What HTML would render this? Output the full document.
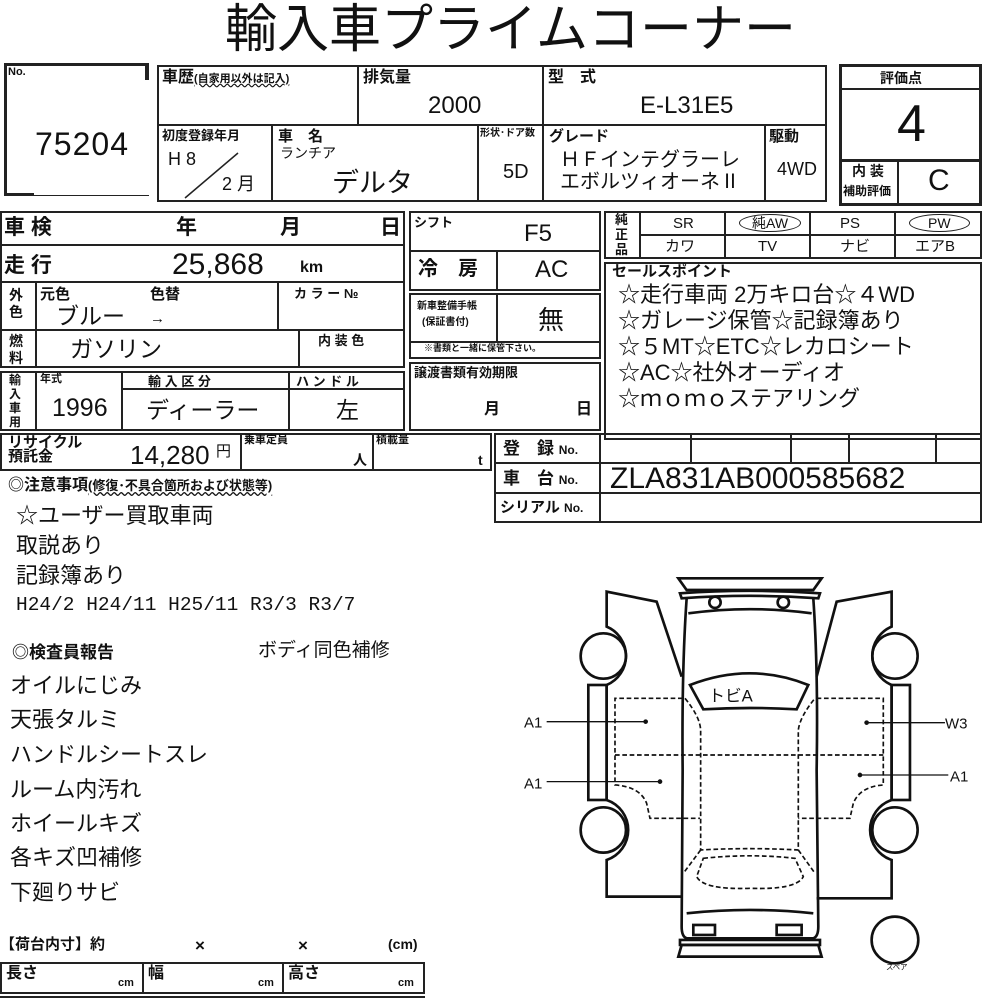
<!DOCTYPE html>
<html><head><meta charset="utf-8">
<style>
body{margin:0;background:#fff;}
#p{position:relative;width:1000px;height:1000px;overflow:hidden;font-family:"Liberation Sans","Noto Sans CJK JP",sans-serif;color:#111;}
.b{position:absolute;border:2px solid #222;box-sizing:border-box;}
.l{position:absolute;background:#222;}
.t{position:absolute;white-space:nowrap;line-height:1;}
.s{font-size:13px;font-weight:bold;}
.m{font-size:22px;}
.n{font-size:22px;}
</style></head><body><div id="p">
<div class="t" style="left:225px;top:4px;font-size:52px;letter-spacing:0px">輸入車プライムコーナー</div>

<!-- No box -->
<div class="l" style="left:4px;top:63px;width:145px;height:3px"></div>
<div class="l" style="left:145px;top:63px;width:4px;height:17px"></div>
<div class="l" style="left:4px;top:63px;width:3px;height:133px"></div>
<div class="l" style="left:4px;top:193px;width:30px;height:3px"></div>
<div class="l" style="left:34px;top:195px;width:115px;height:1px"></div>
<div class="t s" style="left:8px;top:67px;font-size:11px">No.</div>
<div class="t" style="left:35px;top:128px;font-size:32px;letter-spacing:1px">75204</div>

<!-- top table -->
<div class="b" style="left:157px;top:65px;width:670px;height:137px"></div>
<div class="l" style="left:157px;top:124px;width:670px;height:2px"></div>
<div class="l" style="left:357px;top:65px;width:2px;height:60px"></div>
<div class="l" style="left:542px;top:65px;width:2px;height:137px"></div>
<div class="l" style="left:271px;top:124px;width:2px;height:78px"></div>
<div class="l" style="left:477px;top:124px;width:2px;height:78px"></div>
<div class="l" style="left:764px;top:124px;width:2px;height:78px"></div>
<div class="t" style="left:162px;top:70px;font-size:16px;font-weight:bold">車歴<span style="font-size:11px;text-decoration:underline wavy">(自家用以外は記入)</span></div>
<div class="t" style="left:363px;top:70px;font-size:16px;font-weight:bold">排気量</div>
<div class="t" style="left:428px;top:94px;font-size:24px">2000</div>
<div class="t" style="left:640px;top:94px;font-size:24px">E-L31E5</div>
<div class="t" style="left:548px;top:70px;font-size:16px;font-weight:bold">型　式</div>
<div class="t s" style="left:162px;top:129px">初度登録年月</div>
<div class="t" style="left:168px;top:150px;font-size:18px">H 8</div>
<div class="t" style="left:222px;top:175px;font-size:18px">2 月</div>
<svg style="position:absolute;left:180px;top:150px" width="60" height="50"><line x1="5" y1="48" x2="58" y2="3" stroke="#222" stroke-width="1.5"/></svg>
<div class="t" style="left:278px;top:129px;font-size:15px;font-weight:bold">車　名</div>
<div class="t" style="left:280px;top:146px;font-size:14px">ランチア</div>
<div class="t" style="left:332px;top:170px;font-size:27px">デルタ</div>
<div class="t" style="left:480px;top:129px;font-size:10px;font-weight:bold">形状･ドア数</div>
<div class="t" style="left:503px;top:162px;font-size:20px">5D</div>
<div class="t" style="left:549px;top:129px;font-size:15px;font-weight:bold">グレード</div>
<div class="t" style="left:560px;top:150px;font-size:20px">ＨＦインテグラーレ</div>
<div class="t" style="left:560px;top:172px;font-size:20px">エボルツィオーネⅡ</div>
<div class="t" style="left:769px;top:129px;font-size:15px;font-weight:bold">駆動</div>
<div class="t" style="left:777px;top:160px;font-size:18px">4WD</div>

<!-- 評価点 -->
<div class="b" style="left:839px;top:64px;width:143px;height:142px;border-width:3px"></div>
<div class="l" style="left:839px;top:88px;width:143px;height:2px"></div>
<div class="l" style="left:839px;top:159px;width:143px;height:3px"></div>
<div class="l" style="left:897px;top:159px;width:2px;height:46px"></div>
<div class="t s" style="left:880px;top:71px;font-size:14px">評価点</div>
<div class="t" style="left:897px;top:98px;font-size:52px">4</div>
<div class="t s" style="left:852px;top:164px;font-size:14px">内 装</div>
<div class="t s" style="left:843px;top:185px;font-size:12px">補助評価</div>
<div class="t" style="left:928px;top:166px;font-size:30px">C</div>

<!-- left block -->
<div class="b" style="left:0;top:211px;width:405px;height:72px"></div>
<div class="l" style="left:0;top:244px;width:405px;height:2px"></div>
<div class="t" style="left:4px;top:217px;font-size:21px;font-weight:bold">車 検</div>
<div class="t" style="left:176px;top:217px;font-size:21px;font-weight:bold">年</div>
<div class="t" style="left:280px;top:217px;font-size:21px;font-weight:bold">月</div>
<div class="t" style="left:380px;top:217px;font-size:21px;font-weight:bold">日</div>
<div class="t" style="left:4px;top:255px;font-size:21px;font-weight:bold">走 行</div>
<div class="t" style="left:172px;top:250px;font-size:30px">25,868</div>
<div class="t" style="left:300px;top:260px;font-size:16px;font-weight:bold">km</div>

<div class="b" style="left:0;top:281px;width:405px;height:87px"></div>
<div class="l" style="left:0;top:329px;width:405px;height:2px"></div>
<div class="l" style="left:35px;top:281px;width:2px;height:87px"></div>
<div class="l" style="left:277px;top:281px;width:2px;height:49px"></div>
<div class="l" style="left:298px;top:329px;width:2px;height:39px"></div>
<div class="t s" style="left:9px;top:287px;font-size:14px;line-height:17px;white-space:normal;width:16px">外色</div>
<div class="t s" style="left:40px;top:287px;font-size:15px">元色</div>
<div class="t s" style="left:150px;top:287px;font-size:15px">色替</div>
<div class="t" style="left:56px;top:305px;font-size:23px">ブルー</div>
<div class="t" style="left:150px;top:311px;font-size:15px">→</div>
<div class="t s" style="left:294px;top:287px">カ ラ ー №</div>
<div class="t s" style="left:9px;top:333px;font-size:14px;line-height:17px;white-space:normal;width:16px">燃料</div>
<div class="t" style="left:70px;top:338px;font-size:23px">ガソリン</div>
<div class="t s" style="left:318px;top:334px">内 装 色</div>

<div class="b" style="left:0;top:371px;width:405px;height:60px"></div>
<div class="l" style="left:35px;top:371px;width:2px;height:60px"></div>
<div class="l" style="left:121px;top:371px;width:2px;height:60px"></div>
<div class="l" style="left:288px;top:371px;width:2px;height:60px"></div>
<div class="l" style="left:121px;top:388px;width:284px;height:2px"></div>
<div class="t s" style="left:9px;top:373px;font-size:12px;line-height:14px;white-space:normal;width:14px">輸入車用</div>
<div class="t s" style="left:40px;top:374px;font-size:11px">年式</div>
<div class="t s" style="left:148px;top:375px">輸 入 区 分</div>
<div class="t s" style="left:296px;top:375px">ハ ン ド ル</div>
<div class="t" style="left:52px;top:396px;font-size:25px">1996</div>
<div class="t" style="left:146px;top:399px;font-size:23px">ディーラー</div>
<div class="t" style="left:336px;top:399px;font-size:23px">左</div>

<!-- middle column -->
<div class="b" style="left:409px;top:211px;width:192px;height:80px"></div>
<div class="l" style="left:409px;top:250px;width:192px;height:2px"></div>
<div class="l" style="left:496px;top:250px;width:2px;height:41px"></div>
<div class="t s" style="left:414px;top:216px">シフト</div>
<div class="t" style="left:524px;top:222px;font-size:24px">F5</div>
<div class="t" style="left:418px;top:259px;font-size:20px;font-weight:bold">冷　房</div>
<div class="t" style="left:535px;top:258px;font-size:24px">AC</div>
<div class="b" style="left:409px;top:293px;width:192px;height:66px"></div>
<div class="l" style="left:496px;top:293px;width:2px;height:49px"></div>
<div class="l" style="left:409px;top:341px;width:192px;height:2px"></div>
<div class="t s" style="left:417px;top:302px;font-size:10px">新車整備手帳</div>
<div class="t s" style="left:422px;top:318px;font-size:10px">(保証書付)</div>
<div class="t" style="left:538px;top:307px;font-size:26px">無</div>
<div class="t s" style="left:424px;top:344px;font-size:9px">※書類と一緒に保管下さい。</div>
<div class="b" style="left:409px;top:362px;width:192px;height:69px"></div>
<div class="t s" style="left:414px;top:366px">譲渡書類有効期限</div>
<div class="t s" style="left:484px;top:402px;font-size:16px">月</div>
<div class="t s" style="left:576px;top:402px;font-size:16px">日</div>

<!-- 純正品 -->
<div class="b" style="left:604px;top:211px;width:378px;height:48px"></div>
<div class="l" style="left:639px;top:211px;width:2px;height:48px"></div>
<div class="l" style="left:639px;top:234px;width:343px;height:2px"></div>
<div class="l" style="left:724px;top:211px;width:2px;height:48px"></div>
<div class="l" style="left:809px;top:211px;width:2px;height:48px"></div>
<div class="l" style="left:894px;top:211px;width:2px;height:48px"></div>
<div class="t s" style="left:615px;top:212px;font-size:13px;line-height:15px;white-space:normal;width:14px">純正品</div>
<div class="t" style="left:673px;top:216px;font-size:15px">SR</div>
<div class="t" style="left:739px;top:214px;font-size:14px;border:1.5px solid #222;border-radius:50%;padding:1px 12px">純AW</div>
<div class="t" style="left:840px;top:216px;font-size:15px">PS</div>
<div class="t" style="left:909px;top:214px;font-size:14px;border:1.5px solid #222;border-radius:50%;padding:1px 18px">PW</div>
<div class="t" style="left:665px;top:239px;font-size:15px">カワ</div>
<div class="t" style="left:758px;top:239px;font-size:15px">TV</div>
<div class="t" style="left:840px;top:239px;font-size:15px">ナビ</div>
<div class="t" style="left:915px;top:239px;font-size:15px">エアB</div>

<div class="b" style="left:604px;top:262px;width:378px;height:178px"></div>
<div class="t s" style="left:612px;top:264px;font-size:15px">セールスポイント</div>
<div class="t m" style="left:618px;top:284px">☆走行車両 2万キロ台☆４WD</div>
<div class="t m" style="left:618px;top:310px">☆ガレージ保管☆記録簿あり</div>
<div class="t m" style="left:618px;top:336px">☆５MT☆ETC☆レカロシート</div>
<div class="t m" style="left:618px;top:362px">☆AC☆社外オーディオ</div>
<div class="t m" style="left:618px;top:388px">☆ｍｏｍｏステアリング</div>

<!-- recycle row -->
<div class="b" style="left:0;top:433px;width:492px;height:38px"></div>
<div class="l" style="left:240px;top:433px;width:2px;height:38px"></div>
<div class="l" style="left:372px;top:433px;width:2px;height:38px"></div>
<div class="t s" style="left:8px;top:436px;font-size:15px;line-height:14px">リサイクル<br>預託金</div>
<div class="t" style="left:130px;top:442px;font-size:26px">14,280</div>
<div class="t" style="left:216px;top:444px;font-size:15px">円</div>
<div class="t s" style="left:244px;top:435px;font-size:11px">乗車定員</div>
<div class="t s" style="left:353px;top:453px;font-size:14px">人</div>
<div class="t s" style="left:376px;top:435px;font-size:11px">積載量</div>
<div class="t s" style="left:478px;top:453px;font-size:14px">t</div>

<div class="b" style="left:494px;top:433px;width:488px;height:90px"></div>
<div class="l" style="left:494px;top:462px;width:488px;height:2px"></div>
<div class="l" style="left:494px;top:492px;width:488px;height:2px"></div>
<div class="l" style="left:599px;top:433px;width:2px;height:90px"></div>
<div class="l" style="left:690px;top:433px;width:2px;height:30px"></div>
<div class="l" style="left:790px;top:433px;width:2px;height:30px"></div>
<div class="l" style="left:848px;top:433px;width:2px;height:30px"></div>
<div class="l" style="left:935px;top:433px;width:2px;height:30px"></div>
<div class="t s" style="left:503px;top:440px;font-size:17px">登　録 <span style="font-size:12px">No.</span></div>
<div class="t s" style="left:503px;top:470px;font-size:17px">車　台 <span style="font-size:12px">No.</span></div>
<div class="t s" style="left:500px;top:500px;font-size:15px">シリアル <span style="font-size:12px">No.</span></div>
<div class="t" style="left:610px;top:464px;font-size:30px">ZLA831AB000585682</div>

<!-- left text -->
<div class="t s" style="left:8px;top:478px;font-size:16px">◎注意事項<span style="font-size:13px;text-decoration:underline wavy">(修復･不具合箇所および状態等)</span></div>
<div class="t m" style="left:16px;top:505px">☆ユーザー買取車両</div>
<div class="t m" style="left:16px;top:535px">取説あり</div>
<div class="t m" style="left:16px;top:565px">記録簿あり</div>
<div class="t" style="left:16px;top:596px;font-size:19.5px;font-family:'Liberation Mono',monospace">H24/2 H24/11 H25/11 R3/3 R3/7</div>
<div class="t s" style="left:12px;top:644px;font-size:17px">◎検査員報告</div>
<div class="t" style="left:258px;top:641px;font-size:19px">ボディ同色補修</div>
<div class="t m" style="left:10px;top:675px">オイルにじみ</div>
<div class="t m" style="left:10px;top:709px">天張タルミ</div>
<div class="t m" style="left:10px;top:744px">ハンドルシートスレ</div>
<div class="t m" style="left:10px;top:779px">ルーム内汚れ</div>
<div class="t m" style="left:10px;top:813px">ホイールキズ</div>
<div class="t m" style="left:10px;top:847px">各キズ凹補修</div>
<div class="t m" style="left:10px;top:882px">下廻りサビ</div>

<div class="t s" style="left:0;top:937px;font-size:15px">【荷台内寸】約</div>
<div class="t s" style="left:195px;top:937px;font-size:17px">×</div>
<div class="t s" style="left:298px;top:937px;font-size:17px">×</div>
<div class="t s" style="left:388px;top:937px;font-size:14px">(cm)</div>
<div class="b" style="left:0;top:962px;width:425px;height:32px"></div>
<div class="l" style="left:142px;top:962px;width:2px;height:32px"></div>
<div class="l" style="left:282px;top:962px;width:2px;height:32px"></div>
<div class="l" style="left:0;top:996px;width:425px;height:2px"></div>
<div class="t s" style="left:6px;top:966px;font-size:16px">長さ</div>
<div class="t s" style="left:118px;top:978px;font-size:11px">cm</div>
<div class="t s" style="left:148px;top:966px;font-size:16px">幅</div>
<div class="t s" style="left:258px;top:978px;font-size:11px">cm</div>
<div class="t s" style="left:288px;top:966px;font-size:16px">高さ</div>
<div class="t s" style="left:398px;top:978px;font-size:11px">cm</div>

<!-- car -->
<svg style="position:absolute;left:0;top:0" width="1000" height="1000">
<g transform="translate(500,570) scale(0.3333)" fill="none" stroke="#111" stroke-width="8">
<path d="M535,25 L965,25 L940,60 L560,60 Z"/>
<path d="M540,70 Q750,55 960,70 L955,85 Q750,70 545,85 Z"/>
<path d="M560,85 Q545,300 548,600 L545,1070 Q545,1100 560,1105 L940,1105 Q955,1100 955,1070 L950,600 Q955,300 940,85"/>
<path d="M565,130 Q750,105 935,130"/>
<circle cx="645" cy="97" r="17"/><circle cx="850" cy="97" r="17"/>
<path d="M570,345 Q750,275 925,345 L890,418 Q750,410 610,418 Z"/>
<text x="625" y="395" font-size="50" fill="#111" stroke="none" font-family="Liberation Sans,Noto Sans CJK JP,sans-serif">トビA</text>
<path d="M560,1030 Q750,1010 940,1030"/>
<rect x="580" y="1065" width="65" height="30"/><rect x="830" y="1065" width="75" height="30"/>
<path d="M540,1110 L960,1110 L960,1125 L540,1125 Z"/>
<path d="M545,1125 L955,1125 L965,1160 L535,1160 Z"/>
<path d="M545,320 L470,95 L320,65 L320,170 A95,95 0 0 1 320,345 L320,690 A95,95 0 0 1 320,870 L320,980 L545,980"/>
<rect x="265" y="345" width="55" height="345"/>
<circle cx="310" cy="258" r="68"/><circle cx="310" cy="780" r="68"/>
<path d="M950,320 L1010,95 L1175,65 L1175,170 A95,95 0 0 0 1175,345 L1175,690 A95,95 0 0 0 1175,870 L1175,985 L950,985"/>
<rect x="1175" y="345" width="55" height="345"/>
<circle cx="1185" cy="258" r="68"/><circle cx="1185" cy="780" r="68"/>
<circle cx="1185" cy="1110" r="70"/>
<g stroke-width="5" stroke-dasharray="14,8">
<path d="M548,385 L345,385 L345,645 Q420,650 440,700 L450,745 L600,745"/>
<path d="M345,555 L1150,555"/>
<path d="M950,385 L1150,385 L1150,645 Q1080,650 1060,700 L1050,745 L895,745"/>
<path d="M555,385 Q600,440 602,480 L602,840 Q750,832 895,840 L895,480 Q900,440 945,385"/>
<path d="M602,840 L550,910 M895,840 L945,910"/>
<path d="M610,865 Q750,850 885,865 L910,920 Q890,960 750,955 Q610,960 590,920 Z"/>
</g>
<g stroke-width="4">
<line x1="140" y1="455" x2="437" y2="455"/><line x1="140" y1="635" x2="480" y2="635"/>
<line x1="1100" y1="458" x2="1335" y2="458"/><line x1="1080" y1="615" x2="1345" y2="615"/>
</g>
<g fill="#111" stroke="none">
<circle cx="437" cy="455" r="7"/><circle cx="480" cy="635" r="7"/><circle cx="1100" cy="458" r="7"/><circle cx="1080" cy="615" r="7"/>
<g font-size="45" font-family="Liberation Sans,sans-serif">
<text x="72" y="472">A1</text><text x="72" y="655">A1</text><text x="1335" y="475">W3</text><text x="1350" y="635">A1</text>
</g>
<text x="1158" y="1198" font-size="22" font-family="Noto Sans CJK JP,sans-serif">スペア</text>
</g>
</g>
</svg>
</div></body></html>
